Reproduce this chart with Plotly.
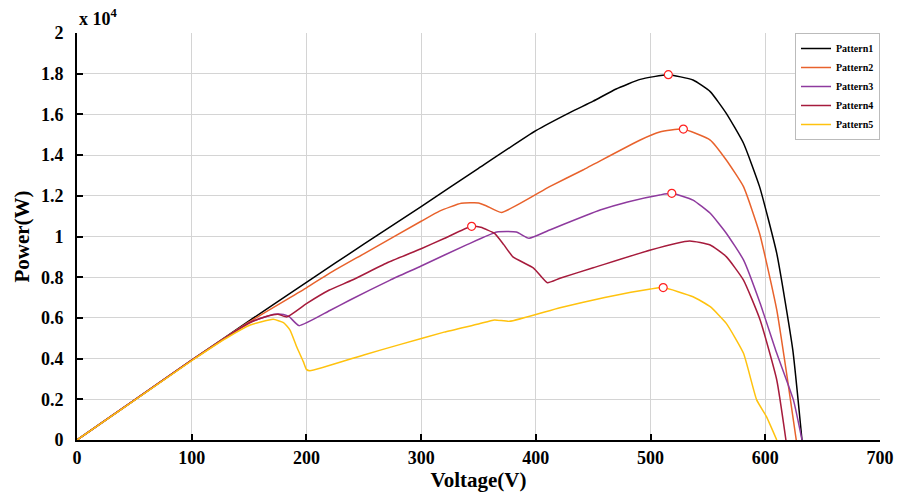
import plotly.graph_objects as go

# Power in units of 1e4 W
v1 = [0, 50, 100, 150, 200, 250, 300, 350, 400, 430, 450, 470, 491, 515, 537, 552, 566, 581, 595, 610, 624, 632]
p1 = [0, 0.196, 0.392, 0.585, 0.775, 0.962, 1.147, 1.335, 1.52, 1.61, 1.665, 1.725, 1.772, 1.795, 1.769, 1.712, 1.605, 1.458, 1.245, 0.917, 0.442, 0]

v2 = [0, 50, 100, 150, 200, 220, 250, 300, 316, 335, 350, 357, 370, 412, 441, 491, 508, 528, 552, 566, 581, 595, 610, 619, 627]
p2 = [0, 0.196, 0.392, 0.58, 0.748, 0.819, 0.915, 1.075, 1.125, 1.163, 1.165, 1.15, 1.118, 1.245, 1.327, 1.474, 1.513, 1.528, 1.474, 1.376, 1.245, 1.016, 0.639, 0.311, 0]

v3 = [0, 50, 100, 150, 165, 172, 180, 185, 193.5, 220, 238, 273, 300, 340, 366, 383, 394, 412, 456, 480, 508, 518.5, 537, 552, 566, 581, 595.5, 610, 624.5, 632]
p3 = [0, 0.196, 0.392, 0.575, 0.607, 0.618, 0.617, 0.606, 0.562, 0.635, 0.688, 0.786, 0.855, 0.96, 1.022, 1.022, 0.991, 1.032, 1.13, 1.17, 1.204, 1.212, 1.179, 1.114, 1.016, 0.885, 0.672, 0.426, 0.197, 0]

v4 = [0, 50, 100, 150, 165, 175, 183, 200, 220, 240, 270, 300, 320, 344, 352, 364, 372, 380, 398, 410, 421, 450, 500, 534, 552, 566, 581, 595.5, 610, 618]
p4 = [0, 0.196, 0.392, 0.575, 0.607, 0.618, 0.605, 0.67, 0.737, 0.786, 0.87, 0.94, 0.99, 1.05, 1.045, 1.015, 0.96, 0.9, 0.845, 0.773, 0.795, 0.846, 0.934, 0.978, 0.958, 0.901, 0.786, 0.59, 0.295, 0]

v5 = [0, 50, 100, 130, 151, 160, 171, 180, 185.7, 191.5, 197.3, 200, 203, 250, 282, 320, 350, 364, 377, 421, 460, 500, 511, 537, 552, 566, 581, 592.5, 601, 610]
p5 = [0, 0.195, 0.39, 0.5, 0.565, 0.58, 0.593, 0.577, 0.54, 0.458, 0.385, 0.347, 0.34, 0.418, 0.47, 0.53, 0.57, 0.59, 0.583, 0.65, 0.7, 0.742, 0.749, 0.704, 0.655, 0.573, 0.426, 0.197, 0.115, 0]

mpp_v = [515.5, 528.6, 518.5, 344, 511]
mpp_p = [1.795, 1.528, 1.212, 1.05, 0.749]

names = ["Pattern1", "Pattern2", "Pattern3", "Pattern4", "Pattern5"]
colors = ["#000000", "#E8622C", "#8E3A9E", "#A61B3C", "#FFC20E"]
series = [(v1, p1), (v2, p2), (v3, p3), (v4, p4), (v5, p5)]

fig = go.Figure()
for (v, p), n, c in zip(series, names, colors):
    fig.add_trace(go.Scatter(x=v, y=p, mode="lines", name=n,
                             line=dict(color=c, width=1.5, shape="spline", smoothing=0.45)))

fig.add_trace(go.Scatter(x=mpp_v, y=mpp_p, mode="markers", showlegend=False,
                         marker=dict(symbol="circle", size=8, color="white",
                                     line=dict(color="#FF2020", width=1.2))))

font_fam = "Liberation Serif"
fig.update_layout(
    width=897, height=495,
    margin=dict(l=77, r=17, t=33, b=55),
    plot_bgcolor="white", paper_bgcolor="white",
    font=dict(family=font_fam, color="black"),
    showlegend=True,
    legend=dict(x=1, y=1, xanchor="right", yanchor="top",
                bgcolor="white", bordercolor="#bbbbbb", borderwidth=1,
                font=dict(family=font_fam, size=10, color="black", weight="bold"),
                tracegroupgap=0, itemwidth=30),
    xaxis=dict(range=[0, 700], dtick=100, tick0=0, automargin=False,
               showgrid=True, gridcolor="#d4d4d4", gridwidth=1.3,
               showline=True, linecolor="black", linewidth=2,
               ticks="inside", ticklen=6, tickcolor="black", tickwidth=1.5,
               tickfont=dict(family=font_fam, size=18, weight="bold"),
               zeroline=False,
               title=dict(text="Voltage(V)", standoff=4,
                          font=dict(family=font_fam, size=21, weight="bold"))),
    yaxis=dict(range=[0, 2], dtick=0.2, tick0=0, automargin=False,
               showgrid=True, gridcolor="#d4d4d4", gridwidth=1.3,
               showline=True, linecolor="black", linewidth=2,
               ticks="inside", ticklen=6, tickcolor="black", tickwidth=1.5,
               tickfont=dict(family=font_fam, size=18, weight="bold"),
               ticklabelstandoff=8,
               zeroline=False,
               title=dict(text="Power(W)", standoff=6,
                          font=dict(family=font_fam, size=21, weight="bold"))),
)

fig.add_annotation(xref="paper", yref="paper", x=0, y=1, xanchor="left", yanchor="bottom",
                   text="x 10<sup>4</sup>", showarrow=False, yshift=2,
                   font=dict(family=font_fam, size=18, weight="bold", color="black"))

fig.write_html("out.html")
